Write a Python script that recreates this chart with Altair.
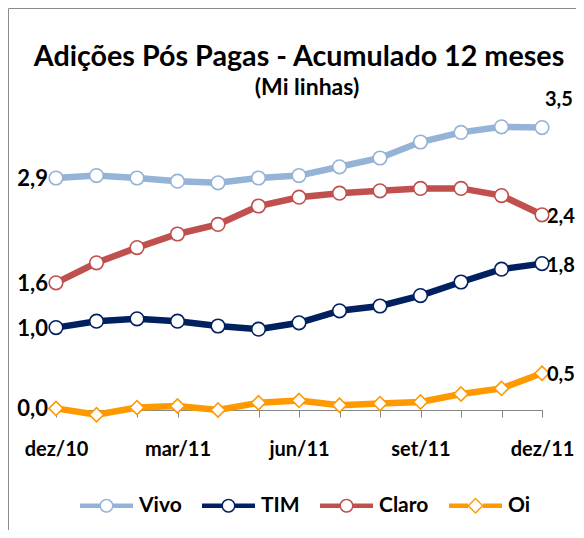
import json
import altair as alt
import pandas as pd

# ---------------- data ----------------
months = ["dez/10", "jan/11", "fev/11", "mar/11", "abr/11", "mai/11", "jun/11",
          "jul/11", "ago/11", "set/11", "out/11", "nov/11", "dez/11"]
shown_months = ["dez/10", "mar/11", "jun/11", "set/11", "dez/11"]
series = ["Vivo", "TIM", "Claro", "Oi"]
colors = ["#95B3D7", "#002060", "#C0504D", "#FF9900"]

vivo = [2.90, 2.93, 2.90, 2.86, 2.84, 2.90, 2.93, 3.04, 3.15, 3.35, 3.47, 3.54, 3.53]
tim = [1.03, 1.11, 1.14, 1.11, 1.05, 1.01, 1.09, 1.24, 1.30, 1.43, 1.60, 1.76, 1.83]
claro = [1.59, 1.84, 2.03, 2.20, 2.32, 2.55, 2.66, 2.71, 2.74, 2.77, 2.77, 2.68, 2.44]
oi = [0.02, -0.06, 0.03, 0.05, 0.00, 0.09, 0.12, 0.06, 0.08, 0.10, 0.20, 0.27, 0.46]
values = {"Vivo": vivo, "TIM": tim, "Claro": claro, "Oi": oi}

title_text = "Adições Pós Pagas - Acumulado 12 meses"
subtitle_text = "(Mi linhas)"

rows = []
for s in series:
    for i, m in enumerate(months):
        rows.append({"mes": m, "idx": i, "serie": s, "valor": values[s][i]})
df = pd.DataFrame(rows)

# ---------------- styling ----------------
FONT = "Lato"
W, H = 486, 304
GRAY = "#868686"

# legend symbols: thick line segments + ring (circle / diamond); hole shows white background
seg = ("M-1,-0.085 L-0.25,-0.085 L-0.25,0.085 L-1,0.085 Z "
       "M0.25,-0.085 L1,-0.085 L1,0.085 L0.25,0.085 Z ")
ring_circle = ("M0.264,0 A0.264,0.264 0 1,1 -0.264,0 A0.264,0.264 0 1,1 0.264,0 Z "
               "M0.2075,0 A0.2075,0.2075 0 1,0 -0.2075,0 A0.2075,0.2075 0 1,0 0.2075,0 Z")
seg_d = ("M-1,-0.085 L-0.28,-0.085 L-0.28,0.085 L-1,0.085 Z "
         "M0.28,-0.085 L1,-0.085 L1,0.085 L0.28,0.085 Z ")
ring_diamond = ("M-0.31,0 L0,-0.31 L0.31,0 L0,0.31 Z "
                "M-0.235,0 L0,0.235 L0.235,0 L0,-0.235 Z")
legend_paths = [seg + ring_circle, seg + ring_circle, seg + ring_circle, seg_d + ring_diamond]

label_expr = f"indexof({json.dumps(shown_months)}, datum.value) >= 0 ? datum.value : ''"

x_enc = alt.X(
    "mes:O", sort=months,
    scale=alt.Scale(type="point", padding=0),
    axis=alt.Axis(
        title=None, labelExpr=label_expr, labelAngle=0,
        labelFont=FONT, labelFontSize=20, labelFontWeight="bold", labelColor="black",
        labelPadding=22, tickSize=7, tickColor=GRAY, tickWidth=1,
        domainColor=GRAY, domainWidth=1, grid=False, gridOpacity=0,
    ),
)
y_enc = alt.Y("valor:Q", scale=alt.Scale(domain=[0, 3.8]), axis=None)
# data-derived (sorted) domain for the drawn series; explicit domain for the legend
stroke_enc = alt.Stroke("serie:N", sort=series, scale=alt.Scale(range=colors), legend=None)

base = alt.Chart(df)

lines = base.mark_line(strokeWidth=6.5).encode(x=x_enc, y=y_enc, stroke=stroke_enc)

legend_props = dict(
    title=None, orient="none", direction="horizontal",
    legendX=24, legendY=373,
    symbolSize=2809, symbolStrokeWidth=0, symbolOpacity=1,
    labelFont=FONT, labelFontSize=21, labelFontWeight="bold", labelColor="black",
    labelOffset=6, columnPadding=20,
)
legend_layer = base.mark_point(filled=True, size=1, opacity=1).encode(
    x=x_enc, y=y_enc,
    color=alt.Color("serie:N", scale=alt.Scale(domain=series, range=colors),
                    legend=alt.Legend(**legend_props)),
    shape=alt.Shape("serie:N", scale=alt.Scale(domain=series, range=legend_paths),
                    legend=alt.Legend(**legend_props)),
)

circles = base.transform_filter(alt.datum.serie != "Oi").mark_point(
    shape="circle", filled=False, fill="white", fillOpacity=1, opacity=1,
    size=185, strokeWidth=1.6,
).encode(x=x_enc, y=y_enc, stroke=stroke_enc)

diamonds = base.transform_filter(alt.datum.serie == "Oi").mark_point(
    shape="diamond", filled=False, fill="white", fillOpacity=1, opacity=1,
    size=200, strokeWidth=1.6,
).encode(x=x_enc, y=y_enc, stroke=stroke_enc)

label_calc = "replace(format(datum.valor, '.1f'), '.', ',')"
text_style = dict(font=FONT, fontWeight="bold", color="black")

left_labels = base.transform_filter(alt.datum.idx == 0).transform_calculate(
    rotulo=label_calc
).mark_text(align="right", dx=-8, dy=1, fontSize=22, **text_style).encode(
    x=x_enc, y=y_enc, text="rotulo:N")

right_labels = base.transform_filter(
    (alt.datum.idx == 12) & (alt.datum.serie != "Vivo")
).transform_calculate(rotulo=label_calc).mark_text(
    align="left", dx=5, dy=2, fontSize=20, **text_style
).encode(x=x_enc, y=y_enc, text="rotulo:N")

top_label = base.transform_filter(
    (alt.datum.idx == 12) & (alt.datum.serie == "Vivo")
).transform_calculate(rotulo=label_calc).mark_text(
    align="left", dx=3, dy=-28, fontSize=20, **text_style
).encode(x=x_enc, y=y_enc, text="rotulo:N")

# titles as text
title_df = pd.DataFrame({"t": [title_text]})
subtitle_df = pd.DataFrame({"t": [subtitle_text]})
title_mark = alt.Chart(title_df).mark_text(
    font=FONT, fontSize=28.7, fontWeight="bold", color="black", align="center", baseline="alphabetic"
).encode(x=alt.value(W / 2), y=alt.value(-40), text="t:N")
subtitle_mark = alt.Chart(subtitle_df).mark_text(
    font=FONT, fontSize=23, fontWeight="bold", color="black", align="center", baseline="alphabetic"
).encode(x=alt.value(W / 2 + 8), y=alt.value(-11), text="t:N")

# outer frame (left and top edges visible; others fall outside the canvas)
frame_df = pd.DataFrame({"k": [0]})
frame = alt.Chart(frame_df).mark_rect(
    filled=False, stroke="#8c8c8c", strokeWidth=1
).encode(
    x=alt.value(-47.5), x2=alt.value(W + 80),
    y=alt.value(-97.5), y2=alt.value(H + 160),
)
# white masks over the plot-area edges (hide the faint view border)
mask_left = alt.Chart(frame_df).mark_rule(color="white", strokeWidth=3).encode(
    x=alt.value(0.5), y=alt.value(-1.5), y2=alt.value(H - 1)
)
mask_top = alt.Chart(frame_df).mark_rule(color="white", strokeWidth=3).encode(
    x=alt.value(-1.5), x2=alt.value(W + 1.5), y=alt.value(0.5)
)
mask_right = alt.Chart(frame_df).mark_rule(color="white", strokeWidth=3).encode(
    x=alt.value(W - 0.5), y=alt.value(-1.5), y2=alt.value(H - 1)
)

chart = alt.layer(
    frame, mask_left, mask_top, mask_right, lines, legend_layer, circles, diamonds,
    left_labels, right_labels, top_label, title_mark, subtitle_mark,
).properties(
    width=W, height=H,
    padding={"left": 48, "top": 98, "right": 34, "bottom": 120},
    autosize=alt.AutoSizeParams(type="none"),
).configure_view(
    stroke="transparent", strokeWidth=0, strokeOpacity=0
).configure_axis(
    grid=False
).configure_axisY(
    domain=False, grid=False, ticks=False, labels=False
).configure(background="white")

chart.save("out.html", embed_options={"renderer": "svg", "actions": False})
